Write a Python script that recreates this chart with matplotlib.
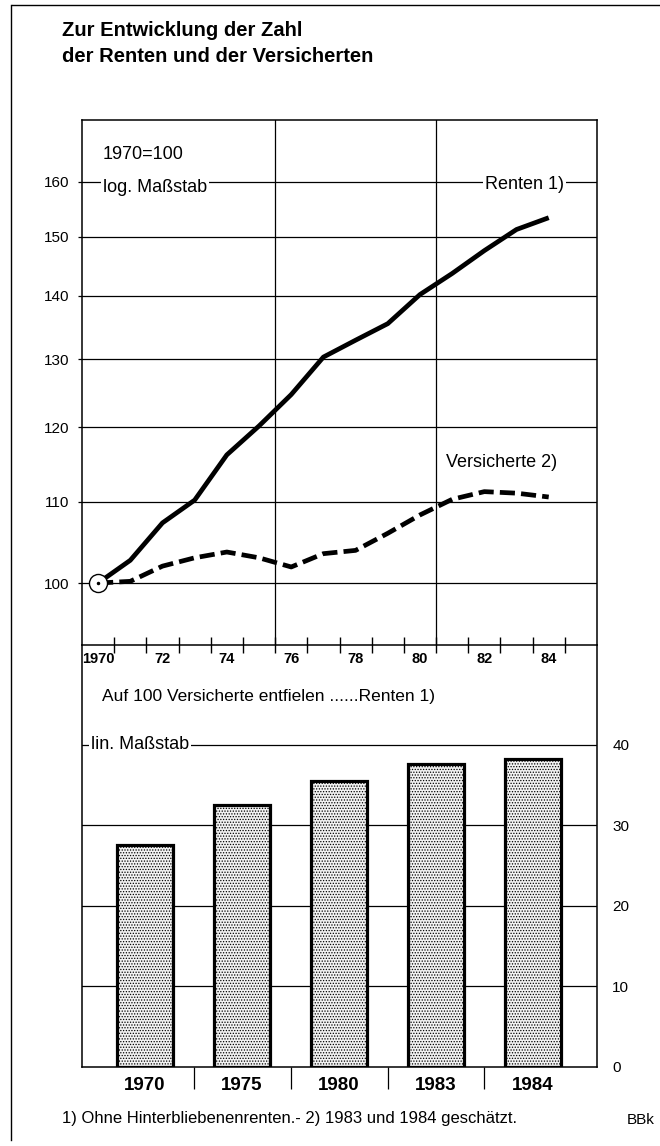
import matplotlib
matplotlib.use("Agg")
from matplotlib import pyplot as plt
from matplotlib.lines import Line2D
from matplotlib.ticker import FixedLocator, NullFormatter

plt.rcParams["font.family"] = ["Liberation Sans", "DejaVu Sans"]
plt.rcParams["hatch.linewidth"] = 0.6

# Oberes Diagramm: Index 1970 = 100, log. Maßstab
years = list(range(1970, 1985))
renten = [100, 102.7, 107.3, 110.2, 116.2, 120.2, 124.7, 130.3, 132.9,
          135.5, 140.2, 143.7, 147.6, 151.3, 153.4]
versicherte = [100, 100.2, 102.0, 103.0, 103.7, 103.0, 101.9, 103.5, 103.9,
               106.0, 108.3, 110.3, 111.3, 111.1, 110.6]
y_ticks_top = [100, 110, 120, 130, 140, 150, 160]
x_label_years = [1970, 1972, 1974, 1976, 1978, 1980, 1982, 1984]
x_label_text = ["1970", "72", "74", "76", "78", "80", "82", "84"]

# Unteres Diagramm: Renten je 100 Versicherte
bar_labels = ["1970", "1975", "1980", "1983", "1984"]
bar_values = [27.6, 32.5, 35.5, 37.6, 38.2]
y_ticks_bottom = [0, 10, 20, 30, 40]

W, H = 660, 1146
fig = plt.figure(figsize=(W / 100, H / 100), dpi=100)


def fbox(left, top, right, bottom):
    return [left / W, 1 - bottom / H, (right - left) / W, (bottom - top) / H]


# --- oben ---
ax1 = fig.add_axes(fbox(82, 120, 597, 645))
ax1.set_yscale("log")
ax1.set_ylim(93, 172)
ax1.set_xlim(1969.5, 1985.5)

for v in y_ticks_top:
    ax1.axhline(v, color="black", lw=0.9, zorder=1)
for xv in [1975.5, 1980.5]:
    ax1.axvline(xv, color="black", lw=0.9, zorder=1)

ax1.plot(years, renten, color="black", lw=3.4, solid_capstyle="butt",
         solid_joinstyle="round", zorder=3)
ax1.plot(years, versicherte, color="black", lw=3.4, dashes=(3.2, 1.3),
         dash_capstyle="butt", zorder=3)
ax1.plot([years[0]], [renten[0]], marker="o", ms=13, mfc="white",
         mec="black", mew=1.0, zorder=5)
ax1.plot([years[0]], [renten[0]], marker="o", ms=1.5, color="black", zorder=6)

ax1.yaxis.set_major_locator(FixedLocator(y_ticks_top))
ax1.yaxis.set_minor_locator(FixedLocator([]))
ax1.set_yticklabels([str(v) for v in y_ticks_top])
ax1.yaxis.set_minor_formatter(NullFormatter())
ax1.tick_params(axis="y", length=3, width=0.9, labelsize=11, pad=6)

ax1.xaxis.set_major_locator(FixedLocator(x_label_years))
ax1.set_xticklabels(x_label_text, fontweight="bold")
ax1.xaxis.set_minor_locator(FixedLocator([y + 0.5 for y in years]))
ax1.tick_params(axis="x", which="major", length=0, labelsize=10.5, pad=5)
ax1.tick_params(axis="x", which="minor", length=11, width=1.0,
                direction="inout")

for s in ax1.spines.values():
    s.set_linewidth(1.1)

white = dict(facecolor="white", edgecolor="none", pad=1.5)
ax1.text(1970.15, 165.2, "1970=100", fontsize=13, va="center", ha="left")
ax1.text(1970.15, 158.9, "log. Maßstab", fontsize=13, va="center", ha="left",
         bbox=white, zorder=4)
ax1.text(1984.47, 159.4, "Renten 1)", fontsize=13, va="center", ha="right",
         bbox=white, zorder=4)
ax1.text(1980.8, 115.2, "Versicherte 2)", fontsize=13, va="center", ha="left")

# --- unten ---
ax2 = fig.add_axes(fbox(82, 645, 597, 1067))
ax2.patch.set_visible(False)
ax2.set_xlim(-0.65, 4.66)
ax2.set_ylim(0, 52.4)
ax2.spines["top"].set_visible(False)
for s in ["left", "right", "bottom"]:
    ax2.spines[s].set_linewidth(1.1)

for v in y_ticks_bottom[1:]:
    ax2.axhline(v, color="black", lw=0.9, zorder=1)

xpos = list(range(len(bar_labels)))
ax2.bar(xpos, bar_values, width=0.57, facecolor="#f2f2f2", edgecolor="black",
        linewidth=2.3, hatch="......", zorder=3)

ax2.yaxis.tick_right()
ax2.set_yticks(y_ticks_bottom)
ax2.set_yticklabels([str(v) for v in y_ticks_bottom])
ax2.tick_params(axis="y", length=0, labelsize=11, pad=11)

ax2.set_xticks(xpos)
ax2.set_xticklabels(bar_labels, fontweight="bold")
ax2.xaxis.set_minor_locator(FixedLocator([x + 0.5 for x in xpos[:-1]]))
ax2.tick_params(axis="x", which="major", length=0, labelsize=13.5, pad=7)
ax2.tick_params(axis="x", which="minor", length=16, width=0.9)

ax2.text(0.039, 0.877, "Auf 100 Versicherte entfielen ......Renten 1)",
         transform=ax2.transAxes, fontsize=12.5, va="center", ha="left")
ax2.text(-0.56, 40, "lin. Maßstab", fontsize=13, va="center", ha="left",
         bbox=white, zorder=4)

# --- Titel, Fußnote, Rahmen ---
fig.text(62 / W, 1 - 30 / H, "Zur Entwicklung der Zahl", fontsize=14.5,
         fontweight="bold", va="center", ha="left")
fig.text(62 / W, 1 - 57 / H, "der Renten und der Versicherten", fontsize=14.5,
         fontweight="bold", va="center", ha="left")
fig.text(62 / W, 1 - 1118 / H,
         "1) Ohne Hinterbliebenenrenten.- 2) 1983 und 1984 geschätzt.",
         fontsize=12, va="center", ha="left")
fig.text(655 / W, 1 - 1120 / H, "BBk", fontsize=11, va="center", ha="right")

fig.add_artist(Line2D([12 / W, 1], [1 - 5 / H, 1 - 5 / H], color="black",
                      lw=1.0, transform=fig.transFigure))
fig.add_artist(Line2D([11 / W, 11 / W], [1 - 5 / H, 1 - 1140 / H],
                      color="black", lw=1.0, transform=fig.transFigure))

fig.savefig("out.png", dpi=100)
